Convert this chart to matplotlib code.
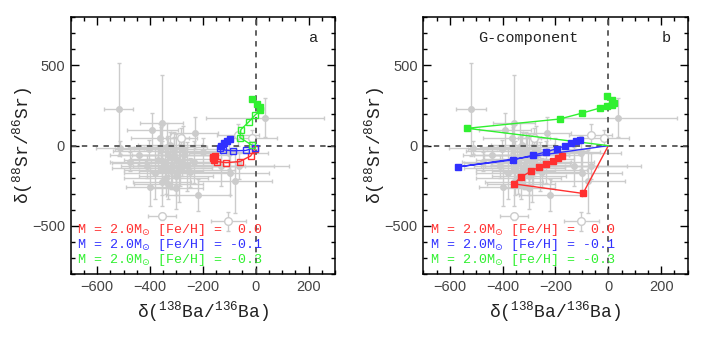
"""
Sr and Ba isotope ratios of presolar SiC grains against AGB model tracks.
Panel a: full grain data; panel b: G-component view.
"""

import matplotlib
matplotlib.use("Agg")
import matplotlib.pyplot as plt
from matplotlib.ticker import MultipleLocator

# grain measurements (same set drawn in both panels)
grain_x = [-519, -513, -475, -391, -356, -363, -231, -325, -359, -400, -356, -300,
           -219, -98, -78, 35, -402, -334, -309, -280, -330, -300, -345, -315,
           -285, -355, -320, -290, -370, -260, -300, -340, -250, -380, -270, -235,
           -410, -330, -131, -65, -102, -440, -200, -275, -310]
grain_y = [226, -12, -99, 95, 139, 46, 77, 4, -16, -258, -228, -265,
           -306, -170, -218, 174, -22, -10, -58, -100, -60, -85, -110, -130,
           -120, -140, -160, -150, -90, -130, -190, -200, -165, -170, -60, -100,
           -130, -240, -130, -126, -43, -60, -40, -20, -35]
grain_xerr = [56, 90, 78, 97, 80, 110, 90, 120, 100, 90, 110, 100,
              120, 150, 140, 223, 130, 150, 160, 140, 180, 170, 200, 150,
              160, 190, 120, 210, 130, 220, 140, 160, 150, 120, 170, 180,
              100, 130, 200, 190, 150, 110, 170, 200, 230]
grain_yerr = [292, 40, 57, 110, 300, 90, 100, 80, 130, 120, 150, 130,
              100, 140, 200, 120, 60, 150, 110, 90, 120, 160, 100, 140,
              130, 170, 110, 200, 80, 150, 120, 100, 90, 160, 110, 130,
              70, 90, 120, 80, 100, 60, 90, 140, 120]

open_x = [-281, -15, -67, -356, -103]
open_y = [50, 46, 66, -441, -472]
open_xerr = [60, 94, 80, 53, 66]
open_yerr = [60, 50, 70, 20, 60]

# model tracks, panel a (first point is the initial composition)
a_red_x = [0, -4, -19, -60, -112, -146, -158, -162, -160, -155]
a_red_y = [0, -22, -64, -99, -106, -99, -88, -80, -70, -62]
a_blue_x = [0, -4, -38, -85, -123, -135, -131, -120, -108, -96]
a_blue_y = [0, -14, -30, -32, -27, -12, 0, 15, 30, 42]
a_green_x = [0, -13, -60, -56, -25, -4, 18, 15, 5, -13]
a_green_y = [0, 2, 50, 100, 150, 188, 220, 240, 262, 292]
n_open_a = 6   # open squares before the filled ones

# model tracks, panel b
b_red_x = [0, -96, -358, -329, -294, -261, -236, -209, -190, -175]
b_red_y = [0, -298, -238, -194, -161, -132, -114, -93, -76, -64]
b_blue_x = [0, -567, -361, -286, -234, -196, -164, -140, -124, -108]
b_blue_y = [0, -132, -89, -60, -39, -19, -2, 15, 27, 37]
b_green_x = [0, -534, -184, -99, -33, -5, 15, 22, 15, -6]
b_green_y = [0, 108, 166, 203, 234, 248, 256, 266, 282, 307]

labels = [r"M = 2.0M$_{\odot}$ [Fe/H] =  0.0",
          r"M = 2.0M$_{\odot}$ [Fe/H] = -0.1",
          r"M = 2.0M$_{\odot}$ [Fe/H] = -0.3"]
colors = ["#ff3030", "#3030ff", "#30f030"]

mono = "Liberation Mono"
gray = "#cccccc"


def draw_grains(ax):
    ax.errorbar(grain_x, grain_y, xerr=grain_xerr, yerr=grain_yerr, fmt="o",
                ms=4, color=gray, ecolor=gray, elinewidth=1.0, capsize=1.5,
                zorder=1)
    ax.errorbar(open_x, open_y, xerr=open_xerr, yerr=open_yerr, fmt="o",
                ms=5.5, mfc="white", mec=gray, ecolor=gray, elinewidth=1.0,
                capsize=1.5, zorder=1)


def style_axes(ax, tag):
    ax.set_xlim(-700, 300)
    ax.set_ylim(-800, 800)
    ax.axhline(0, color="#555555", ls=(0, (3, 3)), lw=1.3, zorder=2)
    ax.axvline(0, color="#555555", ls=(0, (3, 3)), lw=1.3, zorder=2)
    ax.xaxis.set_major_locator(MultipleLocator(200))
    ax.xaxis.set_minor_locator(MultipleLocator(50))
    ax.yaxis.set_major_locator(MultipleLocator(500))
    ax.yaxis.set_minor_locator(MultipleLocator(100))
    ax.tick_params(which="both", direction="in", top=True, right=True,
                   width=1.0, labelsize=10.5, labelcolor="#444444", pad=4)
    ax.tick_params(which="major", length=5.8)
    ax.tick_params(which="minor", length=3)
    for t in ax.get_xticklabels() + ax.get_yticklabels():
        t.set_family("Liberation Sans")
    for s in ax.spines.values():
        s.set_linewidth(1.1)
    ax.set_xlabel("δ($\\mathregular{^{138}}$Ba/$\\mathregular{^{136}}$Ba)",
                  family=mono, fontsize=13, labelpad=4, color="#222222")
    ax.set_ylabel("δ($\\mathregular{^{88}}$Sr/$\\mathregular{^{86}}$Sr)",
                  family=mono, fontsize=13, labelpad=-2, color="#222222")
    ax.text(0.918, 0.92, tag, transform=ax.transAxes, family=mono,
            fontsize=11, ha="center", va="center", color="#222222")
    for i, (lab, c) in enumerate(zip(labels, colors)):
        ax.text(0.025, 0.171 - 0.059 * i, lab, transform=ax.transAxes,
                family=mono, fontsize=9.6, color=c, va="center", zorder=5)


fig = plt.figure(figsize=(7.06, 3.43), dpi=100)
ax_a = fig.add_axes([0.1001, 0.2012, 0.3744, 0.7484])
ax_b = fig.add_axes([0.5996, 0.2012, 0.3744, 0.7484])

# panel a: open squares early in the track, filled later
draw_grains(ax_a)
for xs, ys, c in zip([a_red_x, a_blue_x, a_green_x],
                     [a_red_y, a_blue_y, a_green_y], colors):
    ax_a.plot(xs, ys, "-", color=c, lw=1.0, zorder=3)
    ax_a.plot(xs[1:n_open_a], ys[1:n_open_a], "s", ms=5, mfc="none",
              mec=c, mew=1.0, zorder=4)
    ax_a.plot(xs[n_open_a:], ys[n_open_a:], "s", ms=5, color=c, zorder=4)
style_axes(ax_a, "a")

# panel b: all filled
draw_grains(ax_b)
for xs, ys, c in zip([b_red_x, b_blue_x, b_green_x],
                     [b_red_y, b_blue_y, b_green_y], colors):
    ax_b.plot(xs, ys, "-", color=c, lw=1.0, zorder=3)
    ax_b.plot(xs[1:], ys[1:], "s", ms=4.5, color=c, zorder=4)
style_axes(ax_b, "b")
ax_b.text(0.397, 0.92, "G-component", transform=ax_b.transAxes, family=mono,
          fontsize=11, ha="center", va="center", color="#222222")

fig.savefig("out.png", dpi=100)
